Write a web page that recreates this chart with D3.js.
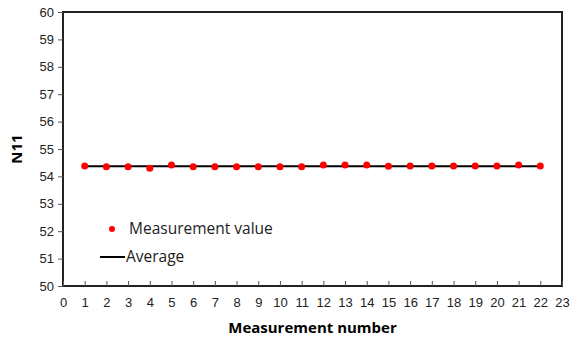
<!DOCTYPE html>
<html lang="en">
<head>
<meta charset="UTF-8">
<title>N11 measurements</title>
<script src="https://d3js.org/d3.v7.min.js"></script>
<style>
    body { margin: 0; background: #fff; font-family: "Open Sans", "Liberation Sans", sans-serif; }
    .tick text { font-size: 13px; fill: #222; }
</style>
</head>
<body>
<svg id="chart" width="570" height="341"></svg>
<script>
const measurementNo = [1, 2, 3, 4, 5, 6, 7, 8, 9, 10, 11, 12, 13, 14, 15, 16, 17, 18, 19, 20, 21, 22];
const measuredN11 = [54.38, 54.35, 54.35, 54.30, 54.42, 54.35, 54.35, 54.35, 54.35, 54.35, 54.35,
                     54.42, 54.42, 54.42, 54.37, 54.38, 54.38, 54.38, 54.38, 54.38, 54.42, 54.38];
const averageN11 = 54.37;
const xTicks = d3.range(0, 24);
const yTicks = d3.range(50, 61);

const svg = d3.select("#chart");
const margin = { left: 63, right: 8, top: 12, bottom: 55 };
const width = 570, height = 341;

const x = d3.scaleLinear().domain([0, 23]).range([margin.left, width - margin.right]);
const y = d3.scaleLinear().domain([50, 60]).range([height - margin.bottom, margin.top]);

// plot frame
svg.append("rect")
    .attr("x", x(0)).attr("y", y(60))
    .attr("width", x(23) - x(0)).attr("height", y(50) - y(60))
    .style("fill", "none").style("stroke", "#222").style("stroke-width", 2);

// y axis, ticks outside
const yAxis = svg.append("g")
    .attr("transform", `translate(${x(0)},0)`)
    .call(d3.axisLeft(y).tickValues(yTicks).tickSize(5).tickPadding(4));
yAxis.select(".domain").remove();
yAxis.selectAll("line").style("stroke", "#555");

// x axis, ticks pointing up into the plot
const xAxis = svg.append("g")
    .attr("transform", `translate(0,${y(50)})`)
    .call(d3.axisBottom(x).tickValues(xTicks).tickSizeInner(-5).tickSizeOuter(0).tickPadding(12));
xAxis.select(".domain").remove();
xAxis.selectAll("line").style("stroke", "#555");

// average line
svg.append("line")
    .attr("x1", x(1)).attr("x2", x(22))
    .attr("y1", y(averageN11)).attr("y2", y(averageN11))
    .style("stroke", "#000").style("stroke-width", 2);

// measurement points
svg.selectAll("circle.pt")
    .data(measurementNo)
    .join("circle")
    .attr("class", "pt")
    .attr("cx", d => x(d))
    .attr("cy", (d, i) => y(measuredN11[i]))
    .attr("r", 3.5)
    .style("fill", "#ff0000");

// legend
const legend = svg.append("g").style("font-size", "15.5px").style("fill", "#222");
legend.append("circle").attr("cx", 112).attr("cy", 229).attr("r", 3).style("fill", "#ff0000");
legend.append("text").attr("x", 129).attr("y", 234).text("Measurement value");
legend.append("line").attr("x1", 100).attr("x2", 125).attr("y1", 257).attr("y2", 257)
    .style("stroke", "#000").style("stroke-width", 2);
legend.append("text").attr("x", 126).attr("y", 262).text("Average");

// axis titles
svg.append("text")
    .attr("x", (x(0) + x(23)) / 2).attr("y", 333)
    .style("text-anchor", "middle").style("font-size", "15px").style("font-weight", "bold")
    .text("Measurement number");
svg.append("text")
    .attr("transform", `translate(22,${(y(50) + y(60)) / 2}) rotate(-90)`)
    .style("text-anchor", "middle").style("font-size", "15px").style("font-weight", "bold")
    .text("N11");
</script>
</body>
</html>
